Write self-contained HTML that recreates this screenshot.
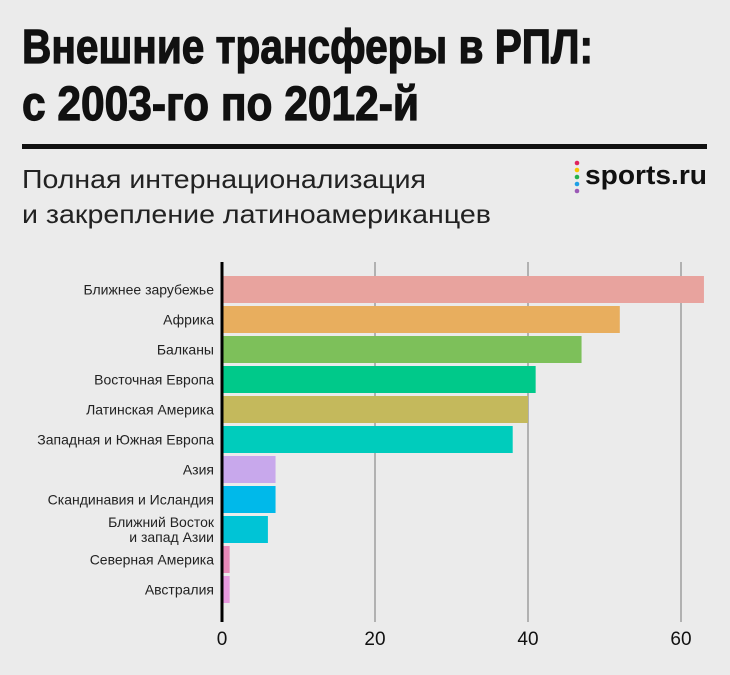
<!DOCTYPE html>
<html><head><meta charset="utf-8"><style>
html,body{margin:0;padding:0;background:#ebebeb;}
svg{display:block;font-family:"Liberation Sans",sans-serif;}
</style></head><body>
<svg id="chart" width="730" height="675">
<rect width="730" height="675" fill="#ebebeb"/>
<text x="22" y="63" font-size="48" font-weight="bold" fill="#111" stroke="#111" stroke-width="1.2" textLength="571" lengthAdjust="spacingAndGlyphs">Внешние трансферы в РПЛ:</text>
<text x="22" y="120" font-size="48" font-weight="bold" fill="#111" stroke="#111" stroke-width="1.2" textLength="397" lengthAdjust="spacingAndGlyphs">с 2003-го по 2012-й</text>
<rect x="22" y="144" width="685" height="5" fill="#111"/>
<text x="22" y="188" font-size="26" fill="#222" textLength="404" lengthAdjust="spacingAndGlyphs">Полная интернационализация</text>
<text x="22" y="223" font-size="26" fill="#222" textLength="469" lengthAdjust="spacingAndGlyphs">и закрепление латиноамериканцев</text>
<g>
<circle cx="577" cy="163" r="2.3" fill="#e0245e"/>
<circle cx="577" cy="170" r="2.3" fill="#f5c400"/>
<circle cx="577" cy="177" r="2.3" fill="#22b14c"/>
<circle cx="577" cy="184" r="2.3" fill="#1ea0e6"/>
<circle cx="577" cy="191" r="2.3" fill="#9b59b6"/>
<text x="585" y="184" font-size="27" font-weight="bold" fill="#111" textLength="122" lengthAdjust="spacingAndGlyphs">sports.ru</text>
</g>
<g id="grid"></g><g id="bars"></g><g id="labels"></g><g id="ticks"></g>
</svg>
<script>
const categories=["Ближнее зарубежье","Африка","Балканы","Восточная Европа","Латинская Америка","Западная и Южная Европа","Азия","Скандинавия и Исландия","Ближний Восток|и запад Азии","Северная Америка","Австралия"];
const values=[63,52,47,41,40,38,7,7,6,1,1];
const colors=["#e8a39e","#e8ae5e","#7dc05a","#00c98a","#c4b95c","#00ccbc","#c8a8ec","#00b9ea","#00c4d6","#e889b8","#e89ae0"];
const tickValues=[0,20,40,60];
const ns="http://www.w3.org/2000/svg";
const x0=222,pxPer=7.65,top0=276,step=30,barH=27;
const xs=v=>x0+v*pxPer;
const ys=i=>top0+i*step;
function mk(t,a,p){const e=document.createElementNS(ns,t);for(const k in a)e.setAttribute(k,a[k]);p.appendChild(e);return e;}
const grid=document.getElementById('grid'),bars=document.getElementById('bars'),labels=document.getElementById('labels'),ticks=document.getElementById('ticks');
tickValues.forEach(v=>{
 if(v>0){const l=mk('line',{x1:xs(v),x2:xs(v),y1:262,y2:622,stroke:'#777','stroke-width':1},grid);
 
 }
 const t=mk('text',{x:xs(v),y:645,'text-anchor':'middle','font-size':19,fill:'#111'},ticks);
 t.textContent=v;
 
 
});
values.forEach((v,i)=>{
 const r=mk('rect',{x:x0,y:ys(i),width:v*pxPer,height:barH,fill:colors[i]},bars);
 
 
 const parts=categories[i].split('|');
 const t=mk('text',{x:214,'text-anchor':'end','font-size':14,fill:'#222'},labels);
 
 
 parts.forEach((p,j)=>{const s=mk('tspan',{x:214,y:ys(i)+barH/2+5+(parts.length>1?(j-0.5)*15:0)},t);s.textContent=p;});
});
const ax=mk('rect',{x:x0-1.5,y:262,width:3,height:360,fill:'#000'},ticks);


</script>
</body></html>
